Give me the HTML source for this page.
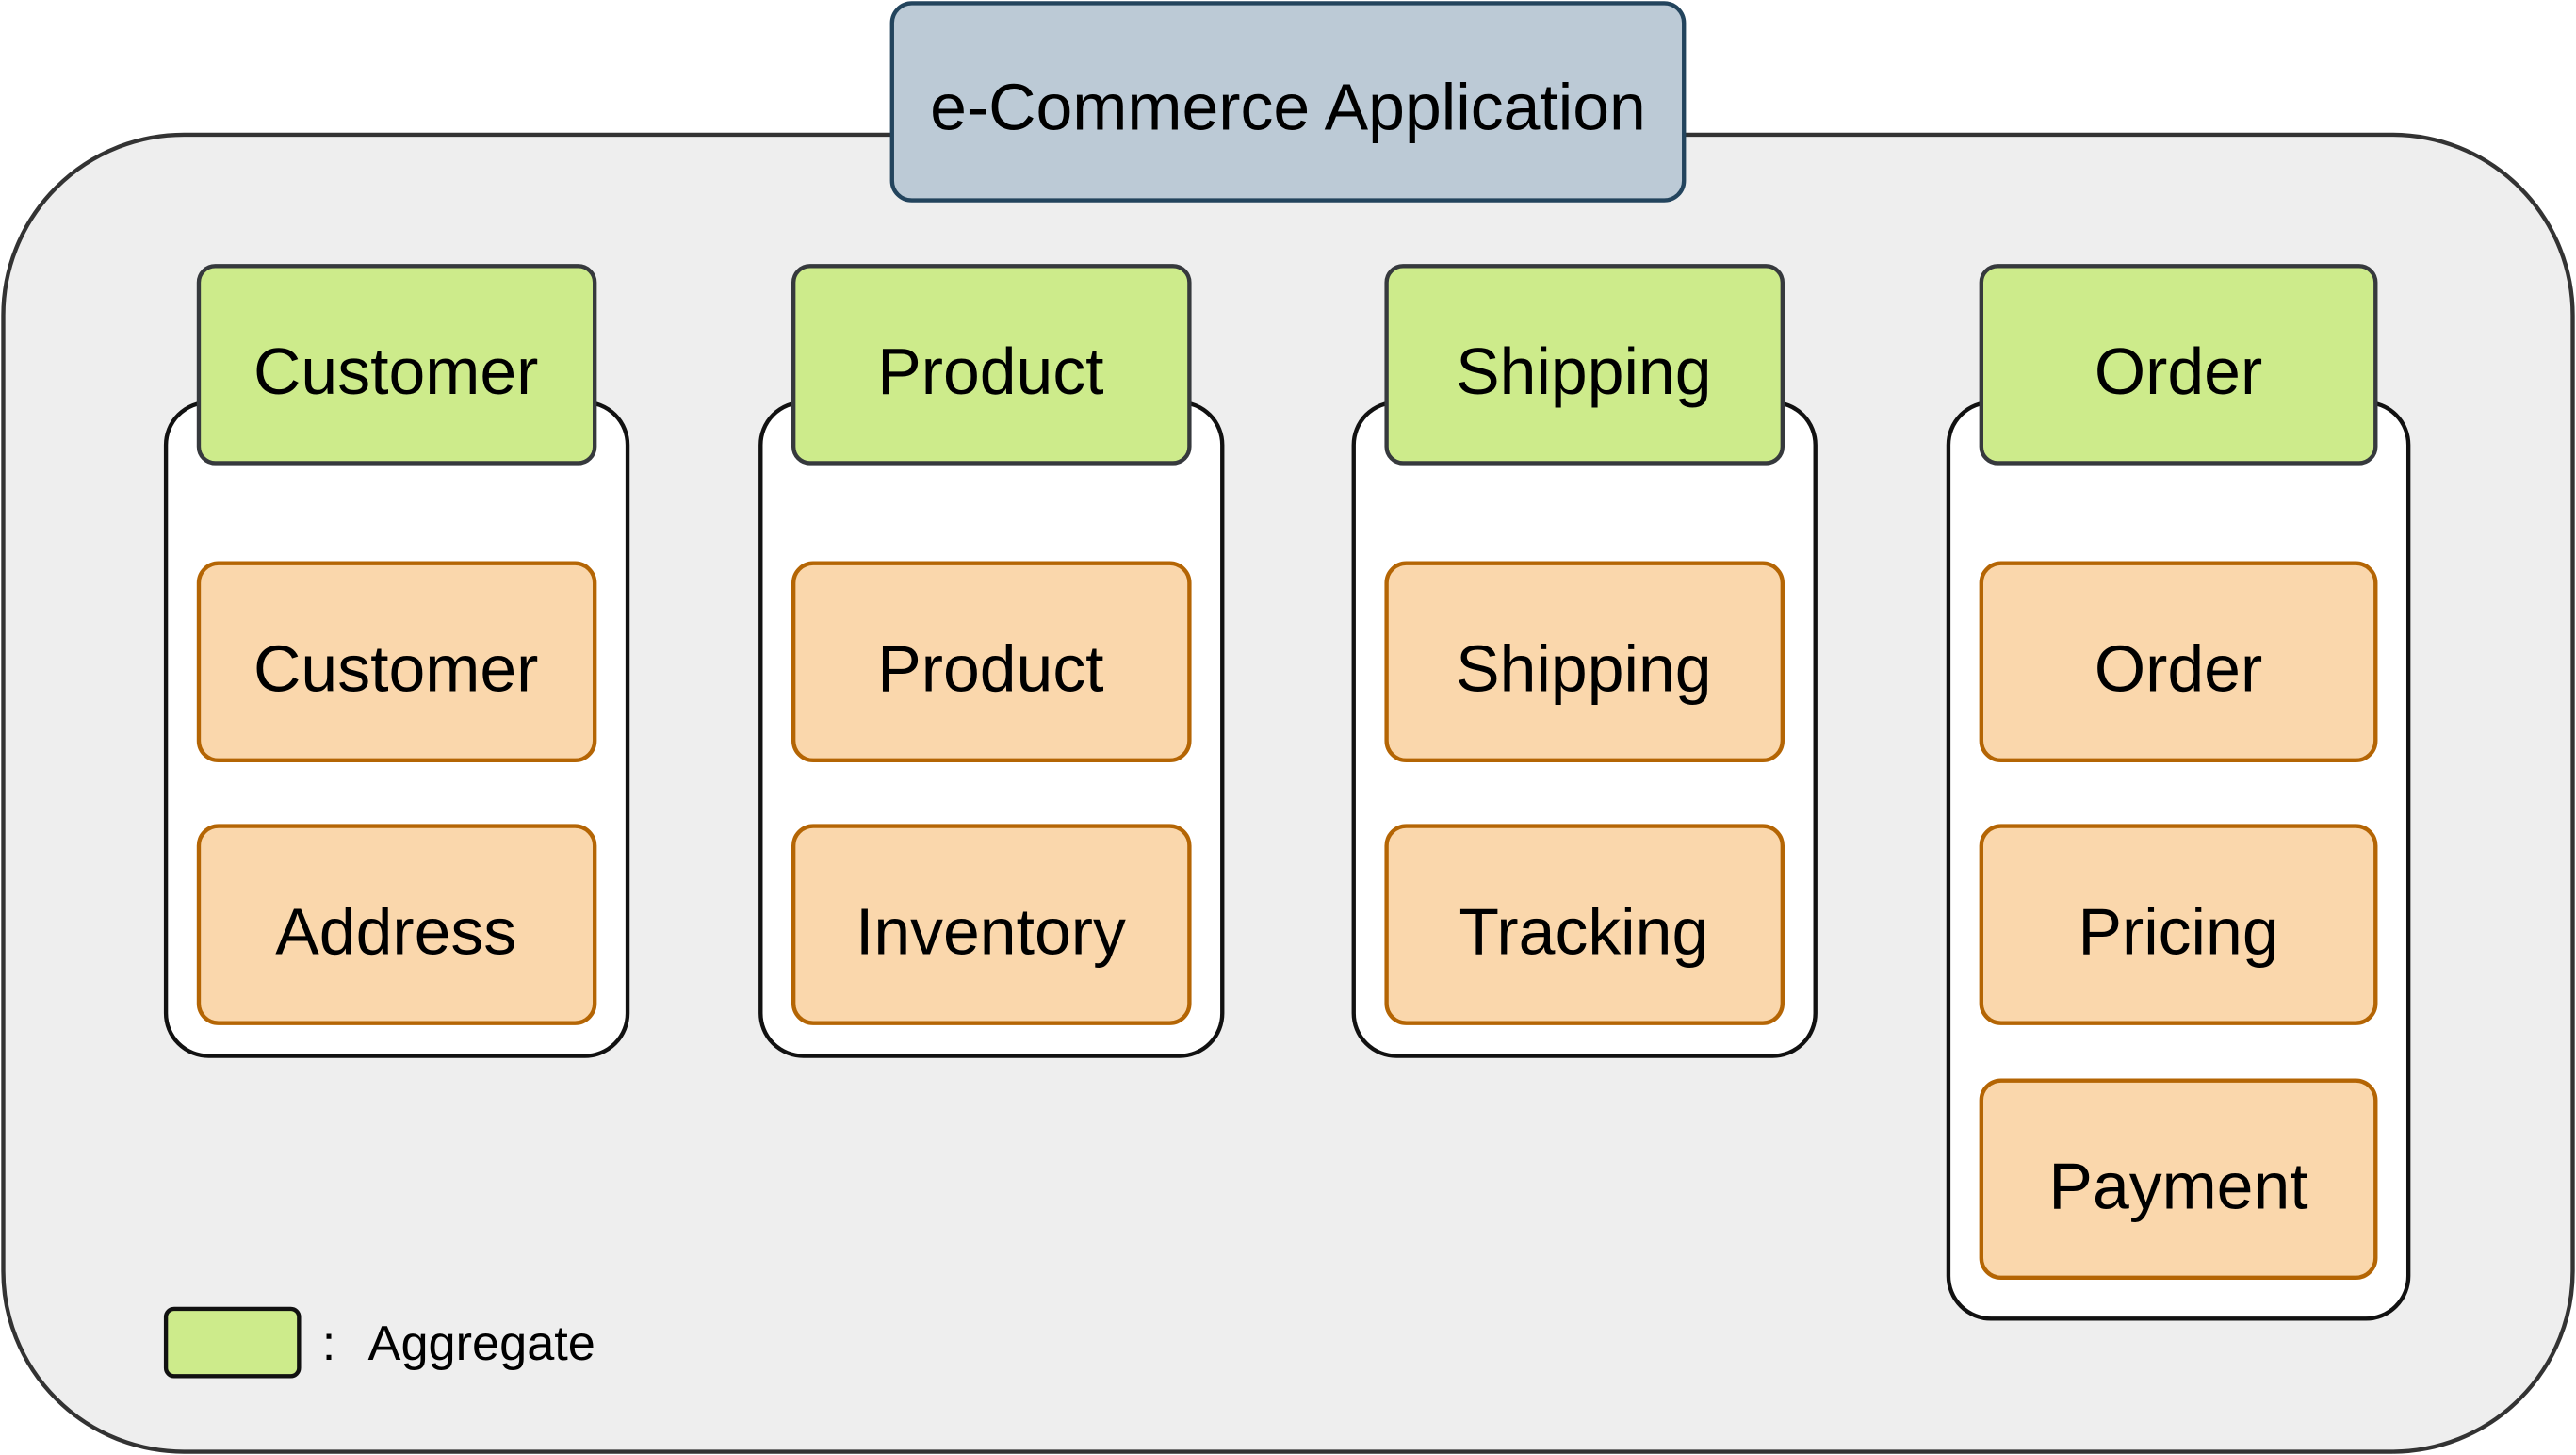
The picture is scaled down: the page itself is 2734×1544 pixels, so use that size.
<!DOCTYPE html>
<html>
<head>
<meta charset="utf-8">
<style>
html,body{margin:0;padding:0;background:#fff;}
svg{display:block;}
text{font-family:"Liberation Sans","DejaVu Sans",sans-serif;fill:#000;}
</style>
</head>
<body>
<svg width="2734" height="1544" viewBox="0 0 1568 886" preserveAspectRatio="none" xmlns="http://www.w3.org/2000/svg">
  <!-- outer container -->
  <rect x="2" y="82" width="1564" height="802" rx="110" ry="110" fill="#eeeeee" stroke="#333" stroke-width="2.5"/>
  <!-- title -->
  <rect x="543" y="2" width="482" height="120" rx="12" fill="#bccad6" stroke="#23445d" stroke-width="2.5"/>
  <text x="784" y="79" font-size="40" text-anchor="middle">e-Commerce Application</text>

  <!-- column containers -->
  <rect x="101" y="245" width="281" height="398" rx="26" fill="#fff" stroke="#111" stroke-width="2.5"/>
  <rect x="463" y="245" width="281" height="398" rx="26" fill="#fff" stroke="#111" stroke-width="2.5"/>
  <rect x="824" y="245" width="281" height="398" rx="26" fill="#fff" stroke="#111" stroke-width="2.5"/>
  <rect x="1186" y="245" width="280" height="558" rx="26" fill="#fff" stroke="#111" stroke-width="2.5"/>

  <!-- green aggregate headers -->
  <g fill="#cdeb8b" stroke="#36393d" stroke-width="2.5">
    <rect x="121" y="162" width="241" height="120" rx="10"/>
    <rect x="483" y="162" width="241" height="120" rx="10"/>
    <rect x="844" y="162" width="241" height="120" rx="10"/>
    <rect x="1206" y="162" width="240" height="120" rx="10"/>
  </g>
  <g font-size="40" text-anchor="middle">
    <text x="241" y="240">Customer</text>
    <text x="603" y="240">Product</text>
    <text x="964" y="240">Shipping</text>
    <text x="1326" y="240">Order</text>
  </g>

  <!-- orange entity boxes -->
  <g fill="#fad7ac" stroke="#b46504" stroke-width="2.5">
    <rect x="121" y="343" width="241" height="120" rx="12"/>
    <rect x="121" y="503" width="241" height="120" rx="12"/>
    <rect x="483" y="343" width="241" height="120" rx="12"/>
    <rect x="483" y="503" width="241" height="120" rx="12"/>
    <rect x="844" y="343" width="241" height="120" rx="12"/>
    <rect x="844" y="503" width="241" height="120" rx="12"/>
    <rect x="1206" y="343" width="240" height="120" rx="12"/>
    <rect x="1206" y="503" width="240" height="120" rx="12"/>
    <rect x="1206" y="658" width="240" height="120" rx="12"/>
  </g>
  <g font-size="40" text-anchor="middle">
    <text x="241" y="421">Customer</text>
    <text x="241" y="581">Address</text>
    <text x="603" y="421">Product</text>
    <text x="603" y="581">Inventory</text>
    <text x="964" y="421">Shipping</text>
    <text x="964" y="581">Tracking</text>
    <text x="1326" y="421">Order</text>
    <text x="1326" y="581">Pricing</text>
    <text x="1326" y="736">Payment</text>
  </g>

  <!-- legend -->
  <rect x="101" y="797" width="81" height="41" rx="5" fill="#cdeb8b" stroke="#111" stroke-width="2.5"/>
  <text x="196" y="828" font-size="30">:</text>
  <text x="224" y="828" font-size="30">Aggregate</text>
</svg>
</body>
</html>
